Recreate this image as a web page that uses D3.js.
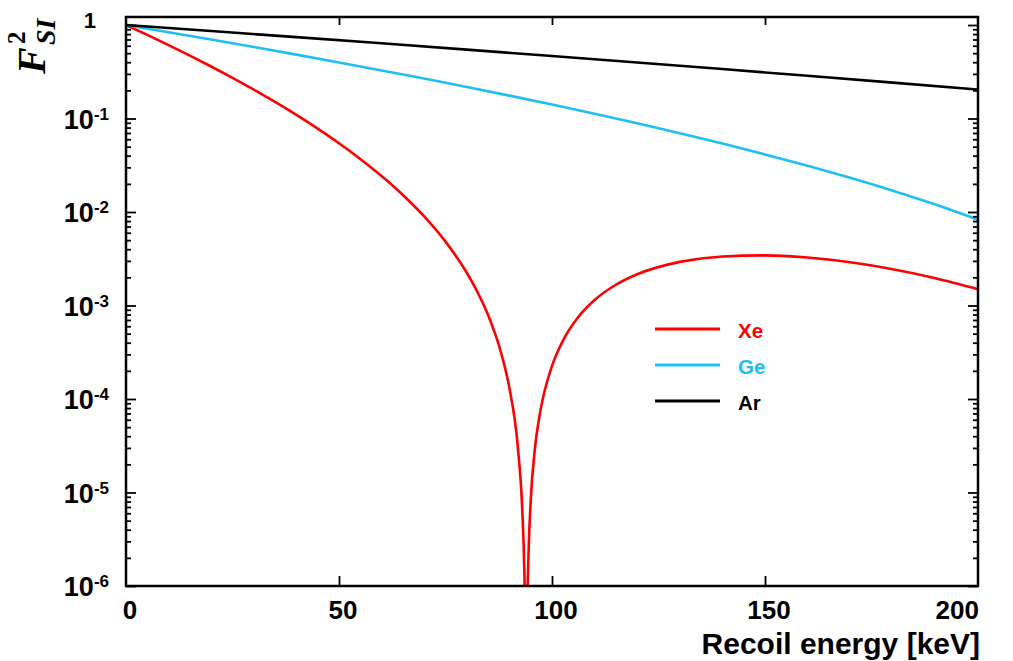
<!DOCTYPE html>
<html>
<head>
<meta charset="utf-8">
<script src="https://cdn.jsdelivr.net/npm/d3@7"></script>
<style>
    body { margin: 0; background: #fff; }
    svg { display: block; }
</style>
</head>
<body>
<div id="chart"></div>
<script>
// squared form factor vs recoil energy [keV]
var energyXe = [0, 5, 10, 15, 20, 25, 30, 35, 40, 45, 50, 55, 60, 65, 70, 75, 80, 82, 85, 88, 90, 92, 93, 93.5, 93.7, 93.94,
    94.2, 94.5, 95, 96, 97, 98, 100, 103, 106, 110, 115, 120, 130, 140, 150, 160, 170, 180, 190, 200];
var formXe = [1, 0.7837, 0.6097, 0.4705, 0.3598, 0.2723, 0.2038, 0.1504, 0.1093, 0.07801, 0.05443, 0.03696, 0.02424,
    0.01520, 0.008954, 0.004818, 0.002240, 0.001545, 7.895e-4, 3.174e-4, 1.312e-4, 2.989e-5, 6.80e-6, 1.47e-6, 4.35e-7,
    1e-9, 4.98e-7, 2.29e-6, 8.09e-6, 2.963e-5, 6.33e-5, 1.080e-4, 2.257e-4, 4.580e-4, 7.361e-4, 1.145e-3, 1.667e-3,
    2.157e-3, 2.928e-3, 3.349e-3, 3.436e-3, 3.257e-3, 2.900e-3, 2.446e-3, 1.961e-3, 1.496e-3];

var energyGe = [0, 10, 20, 30, 40, 50, 60, 70, 80, 90, 100, 110, 120, 130, 140, 150, 160, 170, 180, 190, 200];
var formGe = [1, 0.8378, 0.6995, 0.5819, 0.4823, 0.3980, 0.3269, 0.2673, 0.2173, 0.1756, 0.1410, 0.1124, 0.08886,
    0.06961, 0.05396, 0.04133, 0.03121, 0.02318, 0.01688, 0.01200, 0.008272];

var energyAr = [0, 20, 40, 60, 80, 100, 120, 140, 160, 180, 200];
var formAr = [1, 0.8622, 0.7419, 0.6370, 0.5457, 0.4663, 0.3975, 0.3379, 0.2864, 0.2420, 0.2038];

var seriesNames = ["Xe", "Ge", "Ar"];
var seriesColors = ["#ff0000", "#1ebff2", "#000000"];

var xTickValues = [0, 50, 100, 150, 200];
var yExponents = [0, -1, -2, -3, -4, -5, -6];

var width = 1013, height = 661;
var plot = { left: 126, right: 978, top: 17, bottom: 586 };

var x = d3.scaleLinear().domain([0, 200]).range([plot.left, plot.right]);
var y = d3.scaleLog().domain([1e-6, 1.218]).range([plot.bottom, plot.top]);

var svg = d3.select("#chart").append("svg")
    .attr("width", width)
    .attr("height", height);

svg.append("defs").append("clipPath")
    .attr("id", "plotclip")
    .append("rect")
    .attr("x", plot.left)
    .attr("y", plot.top)
    .attr("width", plot.right - plot.left)
    .attr("height", plot.bottom - plot.top);

// curves
var series = [
    { name: "Xe", e: energyXe, f: formXe },
    { name: "Ge", e: energyGe, f: formGe },
    { name: "Ar", e: energyAr, f: formAr }
];

var line = d3.line()
    .x(function (d) { return x(d[0]); })
    .y(function (d) { return y(d[1]); })
    .curve(d3.curveMonotoneX);

svg.append("g")
    .attr("clip-path", "url(#plotclip)")
    .selectAll("path")
    .data(series)
    .enter().append("path")
    .attr("fill", "none")
    .attr("stroke", function (d, i) { return seriesColors[i]; })
    .attr("stroke-width", 2.6)
    .attr("d", function (d) { return line(d.e.map(function (e, i) { return [e, d.f[i]]; })); });

// ticks (all pointing inwards)
var majors = yExponents.map(function (p) { return Math.pow(10, p); });
var minors = [];
for (var p = -6; p < 0; p++) {
    for (var m = 2; m < 10; m++) minors.push(m * Math.pow(10, p));
}

function tickAxis(axis, tx, ty) {
    var g = svg.append("g").attr("transform", "translate(" + tx + "," + ty + ")").call(axis);
    g.select(".domain").remove();
    g.selectAll("line").attr("stroke", "#000").attr("stroke-width", 1.8);
    return g;
}

tickAxis(d3.axisLeft(y).tickValues(majors).tickSize(-10).tickFormat(""), plot.left, 0);
tickAxis(d3.axisLeft(y).tickValues(minors).tickSize(-5).tickFormat(""), plot.left, 0);
tickAxis(d3.axisRight(y).tickValues(majors).tickSize(-10).tickFormat(""), plot.right, 0);
tickAxis(d3.axisRight(y).tickValues(minors).tickSize(-5).tickFormat(""), plot.right, 0);
tickAxis(d3.axisBottom(x).tickValues([50, 100, 150]).tickSize(-10).tickFormat(""), 0, plot.bottom);
tickAxis(d3.axisTop(x).tickValues([50, 100, 150]).tickSize(-8).tickFormat(""), 0, plot.top);

// frame
svg.append("rect")
    .attr("x", plot.left)
    .attr("y", plot.top)
    .attr("width", plot.right - plot.left)
    .attr("height", plot.bottom - plot.top)
    .attr("fill", "none")
    .attr("stroke", "#000")
    .attr("stroke-width", 2.5);

// y tick labels
var ylabels = svg.append("g")
    .attr("font-family", "'Liberation Sans', Arial, sans-serif")
    .attr("font-weight", "bold")
    .attr("fill", "#000")
    .attr("text-anchor", "end");

yExponents.forEach(function (p) {
    var v = Math.pow(10, p);
    if (p === 0) {
        ylabels.append("text").attr("x", 96).attr("y", 28).attr("font-size", 22).text("1");
        return;
    }
    var t = ylabels.append("text")
        .attr("x", 109)
        .attr("y", y(v) + 10)
        .attr("font-size", 27);
    t.append("tspan").text("10");
    t.append("tspan").attr("dy", -9).attr("font-size", 17).text(String(p));
});

// x tick labels
svg.append("g")
    .attr("font-family", "'Liberation Sans', Arial, sans-serif")
    .attr("font-weight", "bold")
    .attr("font-size", 26)
    .selectAll("text")
    .data(xTickValues)
    .enter().append("text")
    .attr("x", function (d, i) { return i === xTickValues.length - 1 ? x(d) + 1 : x(d) + 4; })
    .attr("y", 619)
    .attr("text-anchor", function (d, i) { return i === xTickValues.length - 1 ? "end" : "middle"; })
    .text(function (d) { return d; });

// axis titles
svg.append("text")
    .attr("x", 980)
    .attr("y", 654)
    .attr("text-anchor", "end")
    .attr("font-family", "'Liberation Sans', Arial, sans-serif")
    .attr("font-weight", "bold")
    .attr("font-size", 30)
    .text("Recoil energy [keV]");

var ytitle = svg.append("g")
    .attr("transform", "translate(45,74) rotate(-90)")
    .attr("font-family", "'Liberation Serif', 'Times New Roman', serif")
    .attr("font-weight", "bold");
ytitle.append("text")
    .attr("x", 0).attr("y", 0)
    .attr("font-size", 40)
    .attr("font-style", "italic")
    .text("F");
ytitle.append("text")
    .attr("x", 30).attr("y", -20)
    .attr("font-size", 25)
    .text("2");
ytitle.append("text")
    .attr("x", 29).attr("y", 10)
    .attr("font-size", 28)
    .attr("font-style", "italic")
    .text("SI");

// legend
var legend = svg.append("g")
    .selectAll("g")
    .data(seriesNames)
    .enter().append("g")
    .attr("transform", function (d, i) { return "translate(655," + (329 + i * 36) + ")"; });
legend.append("line")
    .attr("x1", 0).attr("x2", 65)
    .attr("stroke", function (d, i) { return seriesColors[i]; })
    .attr("stroke-width", 2.8);
legend.append("text")
    .attr("x", 83).attr("y", 9)
    .attr("font-family", "'Liberation Sans', Arial, sans-serif")
    .attr("font-weight", "bold")
    .attr("font-size", 20.5)
    .attr("fill", function (d, i) { return seriesColors[i]; })
    .text(function (d) { return d; });
</script>
</body>
</html>
